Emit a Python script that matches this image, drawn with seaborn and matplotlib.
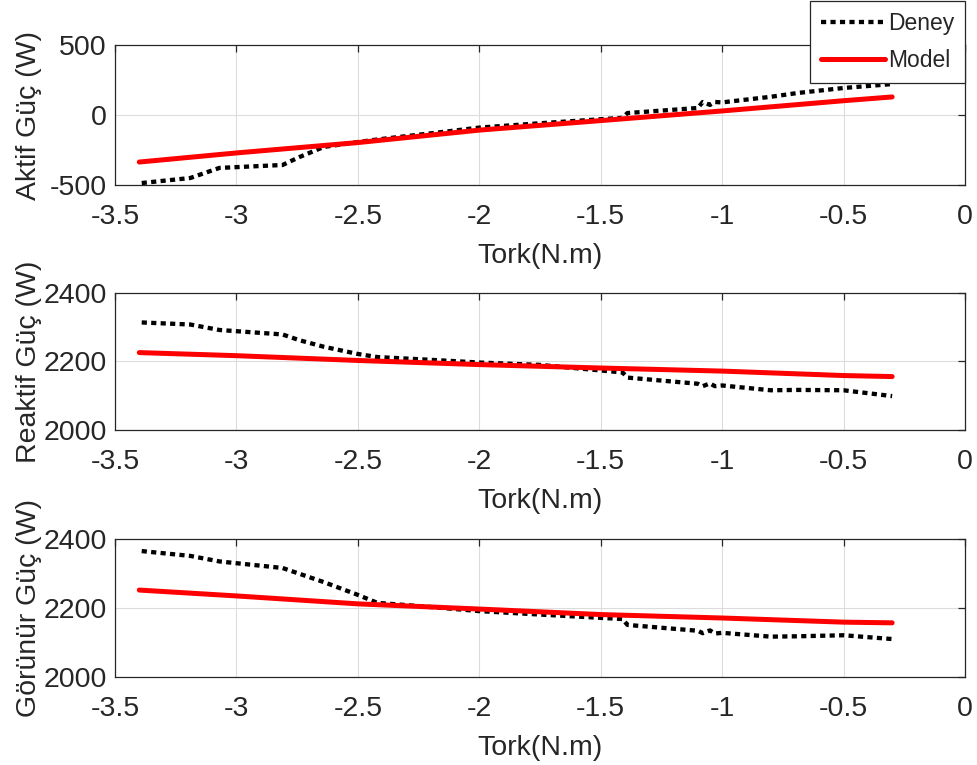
import matplotlib
matplotlib.use("Agg")
import matplotlib.pyplot as plt
import seaborn as sns
import pandas as pd
from matplotlib.ticker import FuncFormatter

# Measured (Deney) torque points and powers
tork_deney = [-3.39, -3.19, -3.07, -2.81, -2.74, -2.64, -2.50, -2.42, -2.15, -2.00, -1.75,
              -1.41, -1.39, -1.10, -1.08, -1.05, -1.03, -1.00, -0.80, -0.69, -0.50, -0.30]
aktif_deney = [-486, -450, -378, -357, -300, -228, -193, -175, -121, -90, -59,
               -20, 14, 50, 93, 72, 93, 90, 130, 157, 193, 221]
reaktif_deney = [2314, 2308, 2292, 2279, 2262, 2243, 2222, 2213, 2203, 2197, 2190,
                 2168, 2153, 2135, 2128, 2136, 2128, 2130, 2116, 2117, 2116, 2099]
gorunur_deney = [2365, 2351, 2335, 2316, 2299, 2275, 2238, 2215, 2200, 2191, 2181,
                 2168, 2151, 2134, 2127, 2135, 2126, 2128, 2117, 2118, 2121, 2110]

# Model predictions
tork_model = [-3.4, -3.0, -2.5, -2.0, -1.5, -1.0, -0.5, -0.3]
aktif_model = [-336, -271, -197, -108, -40, 29, 102, 129]
reaktif_model = [2226, 2217, 2203, 2191, 2181, 2172, 2159, 2156]
gorunur_model = [2252, 2235, 2212, 2197, 2181, 2171, 2159, 2157]

x_ticks = [-3.5, -3.0, -2.5, -2.0, -1.5, -1.0, -0.5, 0.0]
panels = [
    ("Aktif Güç (W)", aktif_deney, aktif_model, [-500, 0, 500], (-500, 500)),
    ("Reaktif Güç (W)", reaktif_deney, reaktif_model, [2000, 2200, 2400], (2000, 2400)),
    ("Görünür Güç (W)", gorunur_deney, gorunur_model, [2000, 2200, 2400], (2000, 2400)),
]

sns.set_style("white")
plt.rcParams["font.family"] = ["Liberation Sans", "DejaVu Sans"]
plt.rcParams["axes.unicode_minus"] = False
txt = "#262626"
fs = 20.5

fig = plt.figure(figsize=(9.78, 7.65), dpi=100)
W, H = 978, 765
boxes = [(45, 185), (293, 430), (539, 677)]
left, right = 115, 965

fmt = FuncFormatter(lambda v, p: f"{v:g}")
handles = None
for (ylabel, deney, model, yt, ylim), (top, bot) in zip(panels, boxes):
    ax = fig.add_axes([left / W, 1 - bot / H, (right - left) / W, (bot - top) / H])
    df_d = pd.DataFrame({"Tork": tork_deney, "Güç": deney})
    df_m = pd.DataFrame({"Tork": tork_model, "Güç": model})
    sns.lineplot(data=df_d, x="Tork", y="Güç", ax=ax, sort=False, color="black",
                 linewidth=3.1, label="Deney", zorder=3)
    ax.lines[-1].set_dashes((1.2, 1.0))
    ax.lines[-1].set_dash_capstyle("butt")
    sns.lineplot(data=df_m, x="Tork", y="Güç", ax=ax, sort=False, color="#ff0000",
                 linewidth=3.6, label="Model", zorder=4)
    ax.set_xlim(-3.5, 0)
    ax.set_ylim(*ylim)
    ax.set_xticks(x_ticks)
    ax.set_yticks(yt)
    ax.xaxis.set_major_formatter(fmt)
    ax.grid(True, color="#dcdcdc", linewidth=0.8)
    ax.set_axisbelow(True)
    for s in ax.spines.values():
        s.set_color(txt)
        s.set_linewidth(0.9)
    ax.tick_params(direction="in", length=5, width=0.9, color=txt, top=True, right=True,
                   labelsize=fs, labelcolor=txt)
    ax.tick_params(axis="x", pad=14)
    ax.tick_params(axis="y", pad=6)
    ax.set_xlabel("Tork(N.m)", fontsize=fs, color=txt, labelpad=9)
    ax.set_ylabel(ylabel, fontsize=fs, color=txt)
    ax.yaxis.set_label_coords(-0.086, 0.5)
    if handles is None:
        handles, labels = ax.get_legend_handles_labels()
    ax.get_legend().remove()

leg = fig.legend(handles, labels, loc="upper right",
                 bbox_to_anchor=(right / W, 1 - 1 / H), fontsize=16.5,
                 frameon=True, fancybox=False, edgecolor=txt, framealpha=1,
                 handlelength=2.8, handletextpad=0.15, labelspacing=0.64,
                 borderpad=0.46, borderaxespad=0)
leg.get_frame().set_linewidth(0.9)
for t in leg.get_texts():
    t.set_color(txt)

fig.savefig("out.png", dpi=100)
